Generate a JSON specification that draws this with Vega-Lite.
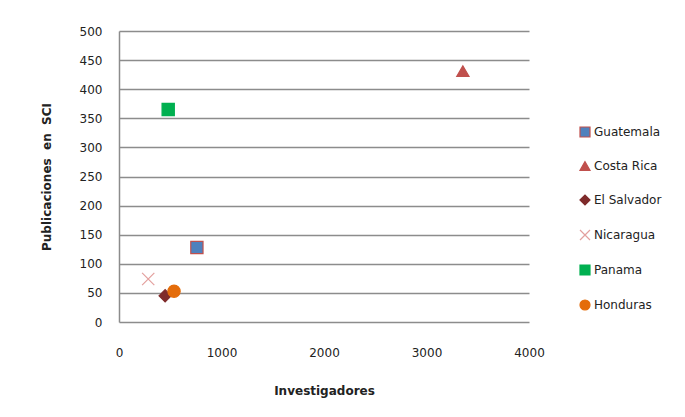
{
  "$schema": "https://vega.github.io/schema/vega-lite/v6.json",
  "width": 410,
  "height": 291,
  "autosize": {"type": "none"},
  "padding": {"left": 119, "top": 31, "right": 156, "bottom": 95},
  "background": "white",
  "data": {
    "values": [
      {"pais": "Guatemala", "investigadores": 760, "publicaciones": 128},
      {"pais": "Costa Rica", "investigadores": 3355, "publicaciones": 431},
      {"pais": "El Salvador", "investigadores": 450, "publicaciones": 45},
      {"pais": "Nicaragua", "investigadores": 285, "publicaciones": 74},
      {"pais": "Panama", "investigadores": 480, "publicaciones": 365},
      {"pais": "Honduras", "investigadores": 537, "publicaciones": 53}
    ]
  },
  "mark": {"type": "point", "size": 150, "strokeWidth": 1.2, "opacity": 1},
  "encoding": {
    "x": {
      "field": "investigadores", "type": "quantitative", "title": "Investigadores",
      "scale": {"domain": [0, 4000], "nice": false},
      "axis": {"values": [0, 1000, 2000, 3000, 4000], "format": "d", "labelFlush": false, "grid": false, "domain": false, "ticks": false, "labelPadding": 25, "titlePadding": 27}
    },
    "y": {
      "field": "publicaciones", "type": "quantitative", "title": "Publicaciones\u00a0 en\u00a0 SCI",
      "scale": {"domain": [0, 500], "nice": false},
      "axis": {"values": [0, 50, 100, 150, 200, 250, 300, 350, 400, 450, 500], "labelFlush": false, "grid": true, "ticks": false, "labelPadding": 17, "titlePadding": 26}
    },
    "shape": {
      "field": "pais", "type": "nominal", "title": null,
      "scale": {
        "domain": ["Guatemala", "Costa Rica", "El Salvador", "Nicaragua", "Panama", "Honduras"],
        "range": ["square", "triangle-up", "diamond", "M-1,-1L1,1M1,-1L-1,1", "square", "circle"]
      }
    },
    "fill": {
      "field": "pais", "type": "nominal", "title": null,
      "scale": {
        "domain": ["Guatemala", "Costa Rica", "El Salvador", "Nicaragua", "Panama", "Honduras"],
        "range": ["#4F81BD", "#C0504D", "#7F2B2B", "transparent", "#00B050", "#E46C0A"]
      }
    },
    "stroke": {
      "field": "pais", "type": "nominal", "title": null,
      "scale": {
        "domain": ["Guatemala", "Costa Rica", "El Salvador", "Nicaragua", "Panama", "Honduras"],
        "range": ["#C0504D", "#C0504D", "#7F2B2B", "#E3A09E", "#00B050", "#E46C0A"]
      }
    }
  },
  "config": {
    "view": {"stroke": null},
    "font": "Liberation Sans",
    "axis": {
      "labelFont": "DejaVu Sans", "labelFontSize": 12, "labelColor": "#222222",
      "titleFont": "DejaVu Sans", "titleFontSize": 12, "titleFontWeight": "bold", "titleColor": "#222222",
      "gridColor": "#8C8C8C", "gridWidth": 1.5, "gridOpacity": 1,
      "domainColor": "#8C8C8C", "domainWidth": 1.5
    },
    "legend": {
      "orient": "none", "legendX": 460, "legendY": 95,
      "labelFont": "DejaVu Sans", "labelFontSize": 12, "labelColor": "#222222",
      "symbolSize": 100, "rowPadding": 19, "labelOffset": 3, "symbolStrokeWidth": 1.2
    }
  }
}
